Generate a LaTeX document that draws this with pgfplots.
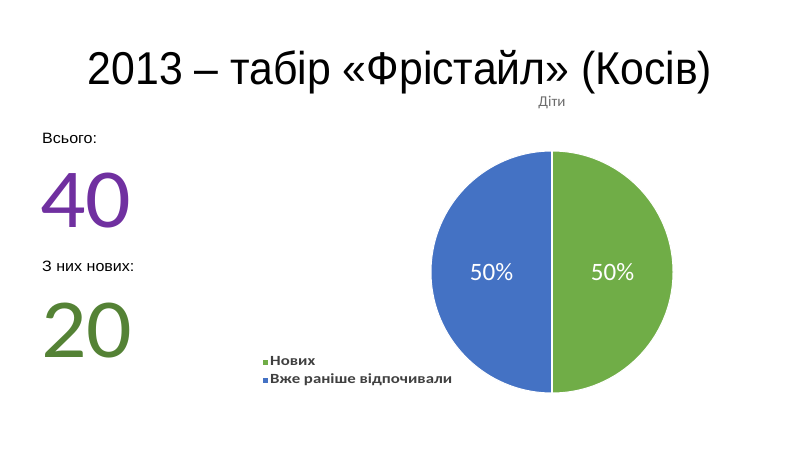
\documentclass[border=0pt]{standalone}
\usepackage{pgfplots}
\usepackage{pgfplotstable}
\pgfplotsset{compat=1.18}
\usepackage{fontspec}
\setmainfont{Carlito}
\newfontfamily\titlefont[FakeStretch=0.93]{Liberation Sans}
\newfontfamily\arialfont[FakeStretch=1.07]{Liberation Sans}
\newfontfamily\legfont[FakeStretch=1.2]{Carlito}
\newfontfamily\bigfont[FakeStretch=1.07]{Carlito}
\definecolor{newgreen}{HTML}{70AD47}
\definecolor{oldblue}{HTML}{4472C4}
\definecolor{bigpurple}{HTML}{7030A0}
\definecolor{biggreen}{HTML}{548235}
\definecolor{legtext}{HTML}{404040}

% pie data: children in the camp
\pgfplotstableread[col sep=comma]{
label,value
Нових,20
Вже раніше відпочивали,20
}\piedata

\begin{document}
\begin{tikzpicture}
\path (0pt,0pt) rectangle (800pt,450pt);

% title and the left-hand text
\node[anchor=base,font=\titlefont\fontsize{46}{50}\selectfont] at (400pt,365pt) {2013 – табір «Фрістайл» (Косів)};
\node[anchor=base west,inner sep=0pt,font=\arialfont\fontsize{15}{18}\selectfont] at (42pt,306pt) {Всього:};
\node[anchor=base west,inner sep=0pt,text=bigpurple,font=\bigfont\fontsize{84}{90}\selectfont] at (40pt,222pt) {40};
\node[anchor=base west,inner sep=0pt,font=\arialfont\fontsize{15}{18}\selectfont] at (42pt,178pt) {З них нових:};
\node[anchor=base west,inner sep=0pt,text=biggreen,font=\bigfont\fontsize{84}{90}\selectfont] at (41pt,93pt) {20};

\pgfplotstablegetelem{0}{value}\of\piedata \let\va\pgfplotsretval
\pgfplotstablegetelem{1}{value}\of\piedata \let\vb\pgfplotsretval
\pgfmathsetmacro\total{\va+\vb}
\pgfmathsetmacro\aa{90-360*\va/\total}
\pgfmathsetmacro\ab{\aa-360*\vb/\total}
\pgfmathsetmacro\ma{(90+\aa)/2}
\pgfmathsetmacro\mb{(\aa+\ab)/2}
\pgfmathtruncatemacro\pa{round(100*\va/\total)}
\pgfmathtruncatemacro\pb{round(100*\vb/\total)}
\pgfmathsetmacro\sx{cos(\aa)}
\pgfmathsetmacro\sy{sin(\aa)}
\pgfmathsetmacro\lax{0.5*cos(\ma)}
\pgfmathsetmacro\lay{0.5*sin(\ma)}
\pgfmathsetmacro\lbx{0.5*cos(\mb)}
\pgfmathsetmacro\lby{0.5*sin(\mb)}

\begin{axis}[
    at={(552pt,178pt)}, anchor=center,
    scale only axis, width=242pt, height=242pt,
    xmin=-1, xmax=1, ymin=-1, ymax=1,
    hide axis, clip=false,
]
\fill[newgreen, draw=white, line width=1pt] (axis cs:0,0) -- (axis cs:0,1) arc[start angle=90, end angle=\aa, radius=121pt] -- cycle;
\fill[oldblue, draw=white, line width=1pt] (axis cs:0,0) -- (axis cs:\sx,\sy) arc[start angle=\aa, end angle=\ab, radius=121pt] -- cycle;
\draw[white, line width=1.2pt] (axis cs:0,1) -- (axis cs:0,-1);
\node[text=white, font=\fontsize{25}{28}\selectfont] at (axis cs:\lax,\lay) {\pa\%};
\node[text=white, font=\fontsize{25}{28}\selectfont] at (axis cs:\lbx,\lby) {\pb\%};
\node[anchor=base, text=gray!85!black, font=\fontsize{15}{17}\selectfont, yshift=44pt] at (axis cs:0,1) {Діти};
\end{axis}

% legend
\fill[newgreen] (263pt,85pt) rectangle (268pt,90pt);
\fill[oldblue] (263pt,67pt) rectangle (268pt,72pt);
\node[anchor=base west,inner sep=0pt,text=legtext,font=\legfont\bfseries\fontsize{14}{16}\selectfont] at (270pt,85pt) {Нових};
\node[anchor=base west,inner sep=0pt,text=legtext,font=\legfont\bfseries\fontsize{14}{16}\selectfont] at (270pt,67pt) {Вже раніше відпочивали};
\end{tikzpicture}
\end{document}
